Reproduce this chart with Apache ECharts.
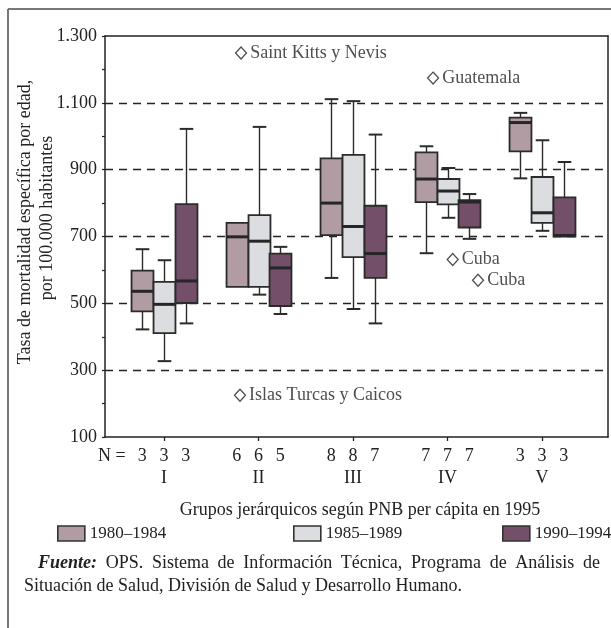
<!DOCTYPE html>
<html>
<head>
<meta charset="utf-8">
<script src="https://cdn.jsdelivr.net/npm/echarts@6/dist/echarts.min.js"></script>
<style>
  html, body { margin: 0; padding: 0; background: #fff; }
  #chart { width: 611px; height: 628px; }
</style>
</head>
<body>
<div id="chart"></div>
<script>
// Income groups (GNP per capita ranking, 1995)
const groups = ['I', 'II', 'III', 'IV', 'V'];
const periods = ['1980–1984', '1985–1989', '1990–1994'];

// Box summaries per group: [min, Q1, median, Q3, max]
const box1980 = [
  [422, 476, 536, 598, 662],
  [549, 549, 699, 741, 741],
  [576, 704, 800, 934, 1111],
  [650, 803, 872, 952, 970],
  [874, 955, 1041, 1056, 1070]
];
const box1985 = [
  [327, 411, 497, 564, 629],
  [526, 549, 686, 764, 1028],
  [483, 638, 730, 944, 1105],
  [756, 796, 836, 872, 905],
  [717, 741, 771, 878, 988]
];
const box1990 = [
  [440, 501, 567, 797, 1022],
  [468, 492, 606, 649, 669],
  [440, 576, 649, 792, 1005],
  [693, 727, 803, 809, 827],
  [700, 700, 703, 817, 923]
];

// Number of countries behind each box
const nCounts = [
  [3, 3, 3],
  [6, 6, 5],
  [8, 8, 7],
  [7, 7, 7],
  [3, 3, 3]
];

// Outlying countries: horizontal position on the group scale, rate
const outlierNames = ['Saint Kitts y Nevis', 'Guatemala', 'Cuba', 'Cuba', 'Islas Turcas y Caicos'];
const outlierPos = [1.815, 3.847, 4.055, 4.323, 1.804];
const outlierRates = [1249, 1174, 631, 569, 225];

const FONT = '"Liberation Serif", "DejaVu Serif", serif';
const FS = 18;
const INK = '#222';
const fills = ['#b29ca4', '#dcdde0', '#744f69'];
const boxSets = [box1980, box1985, box1990];
const OFFSETS = [-0.23, 0, 0.23];   // box slots inside a group
const BOX_W = 0.232;
const X_MIN = 0.3757, X_MAX = 5.698;

const boxPositions = [];
const boxCounts = [];
groups.forEach((g, gi) => OFFSETS.forEach((o, k) => {
  boxPositions.push(gi + 1 + o);
  boxCounts.push(nCounts[gi][k]);
}));

function fmtThousands(v) {
  if (v >= 1000) return Math.floor(v / 1000) + '.' + String(v % 1000).padStart(3, '0');
  return String(v);
}

function makeBoxRenderer(fill) {
  return function (params, api) {
    const x = api.value(0);
    const lo = api.coord([x, api.value(1)]);
    const q1 = api.coord([x, api.value(2)]);
    const md = api.coord([x, api.value(3)]);
    const q3 = api.coord([x, api.value(4)]);
    const hi = api.coord([x, api.value(5)]);
    const w = api.size([BOX_W, 0])[0];
    const cap = w * 0.62;
    const cx = Math.round(lo[0]) + 0.5;
    const stroke = '#2b2b2b';
    const kids = [];
    if (hi[1] < q3[1] - 0.5) {
      kids.push({ type: 'line', shape: { x1: cx, y1: q3[1], x2: cx, y2: hi[1] }, style: { stroke, lineWidth: 1.4 } });
      kids.push({ type: 'line', shape: { x1: cx - cap / 2, y1: hi[1], x2: cx + cap / 2, y2: hi[1] }, style: { stroke, lineWidth: 2 } });
    }
    if (lo[1] > q1[1] + 0.5) {
      kids.push({ type: 'line', shape: { x1: cx, y1: q1[1], x2: cx, y2: lo[1] }, style: { stroke, lineWidth: 1.4 } });
      kids.push({ type: 'line', shape: { x1: cx - cap / 2, y1: lo[1], x2: cx + cap / 2, y2: lo[1] }, style: { stroke, lineWidth: 2 } });
    }
    kids.push({
      type: 'rect',
      shape: { x: cx - w / 2, y: q3[1], width: w, height: q1[1] - q3[1] },
      style: { fill, stroke, lineWidth: 1.8 }
    });
    kids.push({ type: 'line', shape: { x1: cx - w / 2, y1: md[1], x2: cx + w / 2, y2: md[1] }, style: { stroke: '#262626', lineWidth: 3 } });
    return { type: 'group', children: kids };
  };
}

const boxSeries = periods.map((p, si) => ({
  type: 'custom',
  name: p,
  xAxisIndex: 0,
  yAxisIndex: 0,
  itemStyle: { color: fills[si] },
  renderItem: makeBoxRenderer(fills[si]),
  encode: { x: 0, y: [1, 2, 3, 4, 5] },
  data: boxSets[si].map((b, gi) => [gi + 1 + OFFSETS[si]].concat(b)),
  z: 3
}));

const outlierSeries = {
  type: 'scatter',
  xAxisIndex: 0,
  yAxisIndex: 0,
  symbol: 'diamond',
  symbolSize: [11, 12],
  itemStyle: { color: '#fff', borderColor: INK, borderWidth: 1.3 },
  label: {
    show: true, position: 'right', distance: 3, formatter: '{b}',
    fontFamily: FONT, fontSize: FS, color: INK
  },
  data: outlierNames.map((n, i) => ({ name: n, value: [outlierPos[i], outlierRates[i]] })),
  z: 4
};

// Footer paragraph: spread words across the full measure (justified line)
const measureCtx = document.createElement('canvas').getContext('2d');
function textWidth(str, font) { measureCtx.font = font; return measureCtx.measureText(str).width; }
function justifiedLine(words, fonts, x0, x1, y) {
  const widths = words.map((wd, i) => textWidth(wd, fonts[i]));
  const total = widths.reduce((a, b) => a + b, 0);
  const gap = (x1 - x0 - total) / (words.length - 1);
  let x = x0;
  return words.map((wd, i) => {
    const el = {
      type: 'text', x: x, y: y,
      style: { text: wd, font: fonts[i], fill: INK, textVerticalAlign: 'middle' }
    };
    x += widths[i] + gap;
    return el;
  });
}
const plainFont = FS + 'px ' + FONT;
const boldItFont = 'italic bold ' + FS + 'px ' + FONT;
const footWords = ['Fuente:', 'OPS.', 'Sistema', 'de', 'Información', 'Técnica,', 'Programa', 'de', 'Análisis', 'de'];
const footFonts = footWords.map((w, i) => i === 0 ? boldItFont : plainFont);

const chart = echarts.init(document.getElementById('chart'), null, { renderer: 'canvas' });

chart.setOption({
  animation: false,
  backgroundColor: '#fff',
  textStyle: { fontFamily: FONT },
  grid: { left: 105, top: 36, right: 3, bottom: 191, containLabel: false },
  legend: periods.map((p, i) => ({
    data: [{ name: p, icon: 'rect', itemStyle: { color: fills[i], borderColor: '#333', borderWidth: 1.6 } }],
    left: [57, 293, 502][i],
    top: 525,
    padding: 0,
    itemWidth: 27,
    itemHeight: 15,
    selectedMode: false,
    textStyle: { fontFamily: FONT, fontSize: 17, color: INK }
  })),
  xAxis: [
    {
      type: 'value', min: X_MIN, max: X_MAX, position: 'bottom',
      axisLine: { show: true, onZero: false, lineStyle: { color: INK, width: 1.5 } },
      axisTick: { show: true, customValues: [1, 2, 3, 4, 5], length: 4, lineStyle: { color: INK, width: 1.3 } },
      axisLabel: {
        customValues: [1, 2, 3, 4, 5], margin: 32,
        formatter: v => groups[Math.round(v) - 1],
        fontFamily: FONT, fontSize: FS, color: INK
      },
      splitLine: { show: false }
    },
    {
      type: 'value', min: X_MIN, max: X_MAX, position: 'bottom',
      axisLine: { show: false }, axisTick: { show: false },
      axisLabel: {
        customValues: boxPositions, margin: 10,
        formatter: v => {
          const i = boxPositions.findIndex(p => Math.abs(p - v) < 1e-6);
          return i >= 0 ? String(boxCounts[i]) : '';
        },
        fontFamily: FONT, fontSize: FS, color: INK
      },
      splitLine: { show: false }
    },
    {
      type: 'value', min: X_MIN, max: X_MAX, position: 'top',
      axisLine: { show: true, onZero: false, lineStyle: { color: INK, width: 1.5 } },
      axisTick: { show: false }, axisLabel: { show: false }, splitLine: { show: false }
    }
  ],
  yAxis: [
    {
      type: 'value', min: 100, max: 1300, interval: 200,
      axisLine: { show: true, onZero: false, lineStyle: { color: INK, width: 1.5 } },
      axisTick: { show: true, length: 3, lineStyle: { color: INK, width: 1.2 } },
      minorTick: { show: true, splitNumber: 2, length: 3, lineStyle: { color: INK, width: 1.2 } },
      axisLabel: { formatter: fmtThousands, margin: 8, fontFamily: FONT, fontSize: FS, color: INK },
      splitLine: {
        show: true, showMinLine: false, showMaxLine: false,
        lineStyle: { color: INK, width: 1.4, type: [8, 6] }
      }
    },
    {
      type: 'value', min: 100, max: 1300, position: 'right',
      axisLine: { show: true, onZero: false, lineStyle: { color: INK, width: 1.5 } },
      axisTick: { show: false }, axisLabel: { show: false }, splitLine: { show: false }
    }
  ],
  series: boxSeries.concat([outlierSeries]),
  graphic: [
    // outer frame
    { type: 'line', shape: { x1: 8, y1: 9, x2: 611, y2: 9 }, style: { stroke: '#777', lineWidth: 2 } },
    { type: 'line', shape: { x1: 8, y1: 9, x2: 8, y2: 628 }, style: { stroke: '#777', lineWidth: 2 } },
    // y axis title (two lines, reading upwards)
    {
      type: 'text', x: 25, y: 222, rotation: Math.PI / 2,
      style: { text: 'Tasa de mortalidad específica por edad,', font: plainFont, fill: INK, textAlign: 'center', textVerticalAlign: 'middle' }
    },
    {
      type: 'text', x: 47, y: 218, rotation: Math.PI / 2,
      style: { text: 'por 100.000 habitantes', font: plainFont, fill: INK, textAlign: 'center', textVerticalAlign: 'middle' }
    },
    // count row caption
    { type: 'text', x: 98, y: 456, style: { text: 'N =', font: plainFont, fill: INK, textVerticalAlign: 'middle' } },
    // x axis title
    {
      type: 'text', x: 360, y: 510,
      style: { text: 'Grupos jerárquicos según PNB per cápita en 1995', font: plainFont, fill: INK, textAlign: 'center', textVerticalAlign: 'middle' }
    },
    // source note
    ...justifiedLine(footWords, footFonts, 38, 600, 563),
    {
      type: 'text', x: 24, y: 586,
      style: { text: 'Situación de Salud, División de Salud y Desarrollo Humano.', font: plainFont, fill: INK, textVerticalAlign: 'middle' }
    }
  ]
});
</script>
</body>
</html>
